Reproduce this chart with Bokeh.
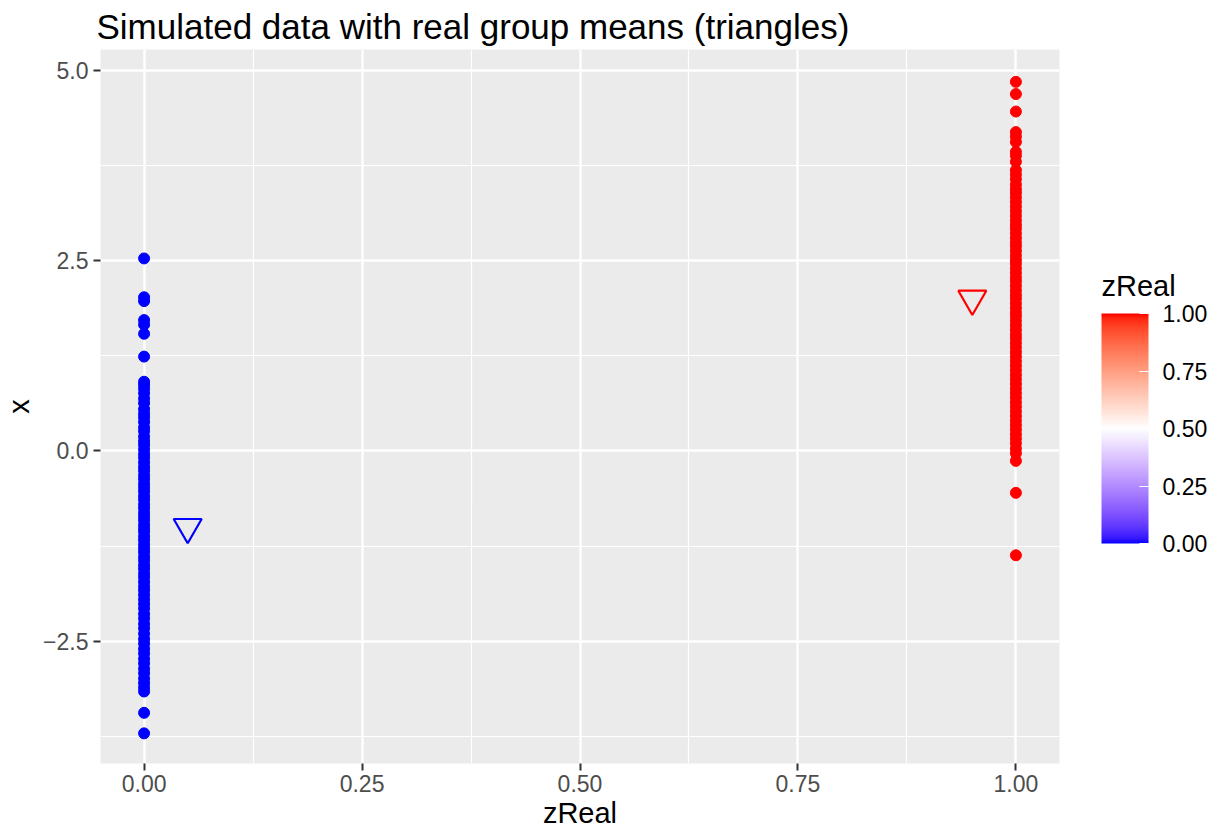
from bokeh.plotting import figure
from bokeh.models import (Range1d, FixedTicker, CustomJSTickFormatter, NumeralTickFormatter,
                          LinearColorMapper, ColorBar, ColumnDataSource)
from bokeh.embed import file_html
from bokeh.resources import INLINE

# ---------------- data ----------------
x_group0 = [2.53, 2.02, 1.97, 1.72, 1.66, 1.54, 1.24,
            0.91, 0.87, 0.82, 0.76, 0.69, 0.63, 0.55, 0.49, 0.44, 0.38, 0.31, 0.26, 0.19,
            0.13, 0.08, 0.02, -0.04, -0.09, -0.15, -0.21, -0.26, -0.32, -0.37, -0.43,
            -0.48, -0.53, -0.59, -0.64, -0.70, -0.75, -0.81, -0.86, -0.91, -0.97, -1.02,
            -1.06, -1.12, -1.17, -1.23, -1.28, -1.33, -1.39, -1.44, -1.50, -1.55, -1.61,
            -1.66, -1.72, -1.78, -1.83, -1.89, -1.95, -2.01, -2.07, -2.14, -2.20, -2.27,
            -2.33, -2.40, -2.47, -2.53, -2.60, -2.66, -2.73, -2.79, -2.86, -2.92, -2.99,
            -3.05, -3.11, -3.16, -3.44, -3.71]
x_group1 = [4.85, 4.69, 4.46, 4.19, 4.13, 4.06, 3.93, 3.88, 3.80,
            3.69, 3.63, 3.57, 3.50, 3.44, 3.39, 3.33, 3.27, 3.21, 3.15, 3.09, 3.03, 2.97,
            2.92, 2.86, 2.80, 2.74, 2.69, 2.63, 2.57, 2.51, 2.46, 2.40, 2.34, 2.28, 2.23,
            2.17, 2.11, 2.05, 2.00, 1.94, 1.88, 1.82, 1.77, 1.71, 1.65, 1.59, 1.53, 1.48,
            1.42, 1.36, 1.30, 1.24, 1.18, 1.12, 1.06, 1.00, 0.94, 0.88, 0.82, 0.76, 0.70,
            0.64, 0.58, 0.52, 0.46, 0.40, 0.34, 0.28, 0.22, 0.16, 0.10, 0.03, -0.03,
            -0.13, -0.55, -1.37]
mean_z = [0.05, 0.95]
mean_x = [-1.0, 2.0]
mean_colour_value = [0.0, 1.0]

x_ticks = [0.0, 0.25, 0.5, 0.75, 1.0]
x_minor = [0.125, 0.375, 0.625, 0.875]
y_ticks = [-2.5, 0.0, 2.5, 5.0]
y_minor = [-3.75, -1.25, 1.25, 3.75]
legend_ticks = [0.0, 0.25, 0.5, 0.75, 1.0]

TITLE = "Simulated data with real group means (triangles)"
LEGEND_TITLE = "zReal"
FONT = "Liberation Sans"

X_RANGE = (-0.05, 1.05)
Y_RANGE = (-4.106, 5.275)

# -------------- colour scale (Lab interpolation blue-white-red) --------------
def _srgb_to_lin(c):
    c = c / 255.0
    return c / 12.92 if c <= 0.04045 else ((c + 0.055) / 1.055) ** 2.4

def _lin_to_srgb(c):
    c = max(0.0, min(1.0, c))
    v = 12.92 * c if c <= 0.0031308 else 1.055 * c ** (1 / 2.4) - 0.055
    return int(round(max(0, min(1, v)) * 255))

def _rgb_to_lab(rgb):
    r, g, b = (_srgb_to_lin(v) for v in rgb)
    X = (0.4124 * r + 0.3576 * g + 0.1805 * b) / 0.95047
    Y = (0.2126 * r + 0.7152 * g + 0.0722 * b) / 1.0
    Z = (0.0193 * r + 0.1192 * g + 0.9505 * b) / 1.08883
    def f(t):
        return t ** (1 / 3) if t > 0.008856 else 7.787 * t + 16 / 116
    fx, fy, fz = f(X), f(Y), f(Z)
    return (116 * fy - 16, 500 * (fx - fy), 200 * (fy - fz))

def _lab_to_hex(lab):
    L, a, b = lab
    fy = (L + 16) / 116
    fx = fy + a / 500
    fz = fy - b / 200
    def finv(t):
        return t ** 3 if t ** 3 > 0.008856 else (t - 16 / 116) / 7.787
    X, Y, Z = finv(fx) * 0.95047, finv(fy), finv(fz) * 1.08883
    r = 3.2406 * X - 1.5372 * Y - 0.4986 * Z
    g = -0.9689 * X + 1.8758 * Y + 0.0415 * Z
    bb = 0.0557 * X - 0.2040 * Y + 1.0570 * Z
    return "#%02x%02x%02x" % (_lin_to_srgb(r), _lin_to_srgb(g), _lin_to_srgb(bb))

low, mid, high = _rgb_to_lab((0, 0, 255)), _rgb_to_lab((255, 255, 255)), _rgb_to_lab((255, 0, 0))
palette = []
N = 256
for i in range(N):
    t = i / (N - 1)
    if t <= 0.5:
        s = t / 0.5
        lab = tuple(low[k] + (mid[k] - low[k]) * s for k in range(3))
    else:
        s = (t - 0.5) / 0.5
        lab = tuple(mid[k] + (high[k] - mid[k]) * s for k in range(3))
    palette.append(_lab_to_hex(lab))

mapper = LinearColorMapper(palette=palette, low=0, high=1)

# ---------------- figure ----------------
p = figure(width=1210, height=831, output_backend="svg", toolbar_location=None,
           x_range=Range1d(*X_RANGE), y_range=Range1d(*Y_RANGE),
           title=TITLE,
           min_border_left=0, min_border_right=151, min_border_top=49, min_border_bottom=0)

p.background_fill_color = "#EBEBEB"
p.border_fill_color = "white"
p.outline_line_color = None

p.title.text_font = FONT
p.title.text_font_size = "35px"
p.title.text_font_style = "normal"
p.title.text_color = "black"
p.title.align = "left"
p.title.offset = -4
p.title.standoff = 8

for ax in (p.xaxis[0], p.yaxis[0]):
    ax.axis_line_color = None
    ax.major_tick_line_color = "#333333"
    ax.major_tick_line_width = 2
    ax.major_tick_out = 7
    ax.major_tick_in = 0
    ax.minor_tick_line_color = None
    ax.major_label_text_font = FONT
    ax.major_label_text_font_size = "23px"
    ax.major_label_text_color = "#4D4D4D"
    ax.axis_label_text_font = FONT
    ax.axis_label_text_font_size = "29px"
    ax.axis_label_text_font_style = "normal"
    ax.axis_label_text_color = "black"

p.xaxis.ticker = FixedTicker(ticks=x_ticks, minor_ticks=x_minor)
p.yaxis.ticker = FixedTicker(ticks=y_ticks, minor_ticks=y_minor)
p.xaxis.formatter = NumeralTickFormatter(format="0.00")
p.yaxis.formatter = CustomJSTickFormatter(code="return tick.toFixed(1).replace('-', '\u2212')")
p.xaxis.axis_label = "zReal"
p.yaxis.axis_label = "x"
p.xaxis.major_label_standoff = 4
p.xaxis.axis_label_standoff = 2
p.yaxis.major_label_standoff = 5
p.yaxis.axis_label_standoff = 5

for g in (p.xgrid[0], p.ygrid[0]):
    g.grid_line_color = "white"
    g.grid_line_width = 2.4
    g.minor_grid_line_color = "white"
    g.minor_grid_line_width = 1.2

src0 = ColumnDataSource(dict(z=[0.0] * len(x_group0), x=x_group0, c=[0.0] * len(x_group0)))
src1 = ColumnDataSource(dict(z=[1.0] * len(x_group1), x=x_group1, c=[1.0] * len(x_group1)))
for src in (src0, src1):
    p.scatter("z", "x", source=src, size=11,
              fill_color={"field": "c", "transform": mapper},
              line_color={"field": "c", "transform": mapper})

src_m = ColumnDataSource(dict(z=mean_z, x=mean_x, c=mean_colour_value))
p.scatter("z", "x", source=src_m, marker="inverted_triangle", size=28,
          fill_color=None, line_width=2.2,
          line_color={"field": "c", "transform": mapper})

cb = ColorBar(color_mapper=mapper, width=47, height=230, padding=0,
              orientation="vertical",
              location=(1001, 220),
              ticker=FixedTicker(ticks=legend_ticks),
              formatter=NumeralTickFormatter(format="0.00"),
              major_label_text_font=FONT, major_label_text_font_size="23px",
              major_label_text_color="black", label_standoff=14,
              major_tick_line_color="white", major_tick_in=9, major_tick_out=0,
              major_tick_line_width=1.2,
              bar_line_color=None, border_line_color=None,
              background_fill_color=None)
p.add_layout(cb, "center")

# legend title: a transparent horizontal colour bar whose (horizontal) title reads "zReal"
cb_title = ColorBar(color_mapper=mapper, width=47, height=1, padding=0,
                    orientation="horizontal", scale_alpha=0.0,
                    location=(1001, 461),
                    ticker=FixedTicker(ticks=[]),
                    title=LEGEND_TITLE, title_text_font=FONT, title_text_font_size="29px",
                    title_text_font_style="normal", title_text_color="black",
                    title_standoff=0,
                    major_tick_line_color=None, minor_tick_line_color=None,
                    bar_line_color=None, border_line_color=None,
                    background_fill_color=None)
p.add_layout(cb_title, "center")

open("out.html", "w").write(file_html(p, INLINE))
